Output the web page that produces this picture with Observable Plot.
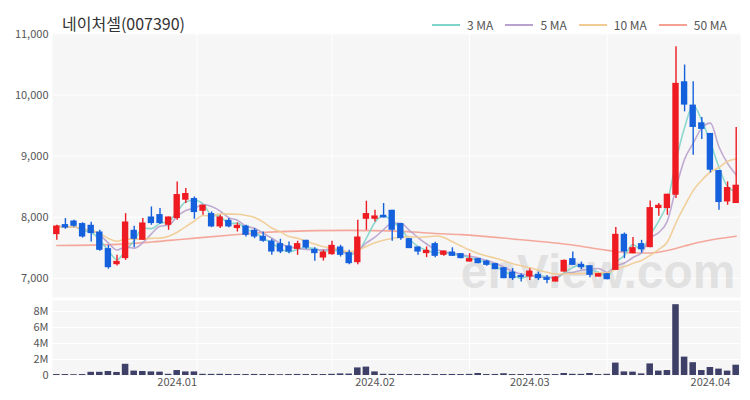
<!DOCTYPE html>
<html><head><meta charset="utf-8">
<script src="https://cdn.jsdelivr.net/npm/d3@7"></script>
<script src="https://cdn.jsdelivr.net/npm/@observablehq/plot@0.6"></script>
<style>
body{margin:0;background:#fff;font-family:"Noto Sans CJK KR","Noto Sans",sans-serif;}
#wrap{position:relative;width:750px;height:400px;overflow:hidden;background:#fff;}
#title{position:absolute;left:62px;top:14px;font-size:16px;line-height:18px;color:#333;}
#legend{position:absolute;left:432px;top:18px;display:flex;align-items:center;font-size:12px;line-height:14px;color:#555;}
#legend .it{display:flex;align-items:center;margin-right:12px;}
#legend .ln{width:28px;height:2px;margin-right:7px;}
#top,#vol{position:absolute;left:0;}
#top{top:0;} #vol{top:296px;}
</style></head>
<body><div id="wrap"><div id="top"></div><div id="vol"></div><div id="title"></div><div id="legend"></div></div>
<script>
const titleText = "네이처셀(007390)";
const watermark = "enView.com";
const opens = [7716,7880,7939,7897,7869,7759,7487,7224,7323,7787,
7623,8005,8044,7869,7979,8279,8307,8098,8061,7842,
7951,7815,7857,7787,7689,7612,7569,7530,7475,7623,
7475,7333,7388,7514,7421,7257,7967,7967,8033,8115,
7897,7650,7514,7405,7569,7377,7431,7405,7267,7323,
7284,7241,7175,7103,7049,7021,7066,7011,6940,7103,
7323,7230,7208,7021,7077,7131,7721,7405,7569,7503,
8143,8143,8361,10218,9836,9546,9372,8765,8251,8225];
const highs = [7870,7979,7950,7910,7918,7787,7541,7377,8060,7852,
7979,8169,8143,8005,8579,8470,8333,8197,8087,8033,
7979,7907,7869,7815,7759,7640,7640,7595,7607,7623,
7503,7459,7607,7541,7459,7951,8262,8115,8225,8115,
7897,7650,7514,7514,7590,7448,7500,7405,7405,7323,
7295,7241,7175,7159,7077,7159,7103,7049,7030,7300,
7431,7267,7208,7077,7077,7831,7743,7667,7623,8267,
8225,8377,10792,10492,10218,9634,9372,8765,8579,9470];
const lows = [7623,7803,7836,7660,7595,7443,7150,7202,7295,7503,
7623,7869,7880,7787,7951,8225,7967,8033,7830,7815,
7830,7759,7677,7650,7590,7377,7405,7405,7377,7475,
7279,7284,7377,7350,7225,7225,7787,7923,7989,7607,
7623,7487,7377,7339,7339,7361,7361,7323,7267,7241,
7197,7143,6995,6967,6940,6967,6967,6913,6940,7103,
7213,7143,7011,7021,6978,7131,7323,7405,7415,7503,
8016,8033,8307,9726,9016,9274,8726,8115,8197,8225];
const closes = [7857,7825,7852,7677,7733,7459,7175,7279,7923,7639,
7907,7897,7897,8005,8372,8389,8077,8197,7842,8005,
7842,7869,7705,7677,7607,7431,7431,7431,7569,7497,
7405,7431,7541,7377,7241,7677,8061,8022,7989,7787,
7650,7487,7431,7459,7361,7448,7361,7323,7323,7241,
7213,7143,6995,6995,7011,7120,6995,6967,7021,7295,
7213,7175,7049,7077,6978,7721,7431,7503,7470,8158,
8197,8377,10192,9836,9470,9438,8770,8241,8487,8525];
const volumesM = [0.12,0.12,0.1,0.12,0.4,0.4,0.5,0.38,1.4,0.55,
0.5,0.45,0.42,0.15,0.62,0.45,0.45,0.15,0.14,0.15,
0.13,0.12,0.12,0.13,0.12,0.12,0.1,0.12,0.13,0.12,
0.12,0.12,0.15,0.2,0.18,0.95,1.05,0.45,0.15,0.14,
0.13,0.12,0.12,0.13,0.12,0.12,0.13,0.12,0.14,0.25,
0.12,0.13,0.22,0.12,0.12,0.13,0.12,0.12,0.12,0.25,
0.15,0.14,0.25,0.12,0.15,1.55,0.45,0.42,0.2,1.45,
0.55,0.62,8.85,2.3,1.6,0.62,1.0,0.8,0.55,1.29];
const ma50Idx = [0,7,11,15,20,26,34,39,44,47,53,60,64,67,69,71,73,75,79];
const ma50Val = [7538,7557,7595,7645,7705,7765,7785,7778,7735,7716,7645,7545,7459,7415,7415,7455,7530,7600,7690];
const maNames = ["3 MA","5 MA","10 MA","50 MA"];
const maWindows = [3,5,10,50];
const maColors = ["#7fd5c9","#b9a2cd","#f1cb91","#f4a092"];
const yTicks = [7000,8000,9000,10000,11000];
const volTicks = [0,2e6,4e6,6e6,8e6];
const xTickIdx = [14,37,55,76];
const xTickLabels = ["2024.01","2024.02","2024.03","2024.04"];
const vGrid = [16.3,32,48,64];

const FONT = '"Noto Sans CJK KR","Noto Sans",sans-serif';
const upColor = "#ee1b22", downColor = "#1561dd";
const n = closes.length;
const candles = closes.map((c,i)=>({i, open:opens[i], high:highs[i], low:lows[i], close:c, up:c>=opens[i], vol:volumesM[i]*1e6}));
const ups = candles.filter(d=>d.up), downs = candles.filter(d=>!d.up);
const ma50 = ma50Idx.map((x,j)=>({x, y:ma50Val[j]}));

const maMarks = [0,1,2].map(j => Plot.lineY(candles, Plot.windowY({k: maWindows[j], anchor: "end", strict: false},
  {x: "i", y: "close", stroke: maColors[j], strokeWidth: 1.6, strokeOpacity: 0.9, curve: "monotone-x"})));

const topChart = Plot.plot({
  width: 750, height: 297, marginLeft: 52, marginRight: 10, marginTop: 33, marginBottom: 0,
  style: {fontFamily: FONT, fontSize: "11px", color: "#555", background: "transparent", overflow: "visible"},
  x: {domain: [-0.5, n-0.5], axis: null},
  y: {domain: [6687, 11008], ticks: yTicks, tickFormat: d3.format(","), tickSize: 0, tickPadding: 4, label: null},
  marks: [
    Plot.frame({fill: "#f6f6f6", stroke: "none"}),
    Plot.ruleY(yTicks, {stroke: "#fff", strokeWidth: 1}),
    Plot.ruleX(vGrid, {stroke: "#fff", strokeWidth: 1}),
    Plot.text([watermark], {text: d=>d, frameAnchor: "bottom-right", dx: -5, dy: -10, textAnchor: "end", lineAnchor: "bottom",
      fontSize: 48, fontWeight: "bold", fontFamily: "Liberation Sans", fill: "#d0d0d0", fillOpacity: 0.55}),
    Plot.line(ma50, {x: "x", y: "y", stroke: maColors[3], strokeWidth: 1.6, strokeOpacity: 0.9, curve: "monotone-x"}),
    ...maMarks,
    Plot.ruleX(ups, {x: "i", y1: "low", y2: "high", stroke: upColor, strokeWidth: 1.4}),
    Plot.ruleX(downs, {x: "i", y1: "low", y2: "high", stroke: downColor, strokeWidth: 1.4}),
    Plot.rect(ups, {x1: d=>d.i-0.37, x2: d=>d.i+0.37, y1: "open", y2: "close", fill: upColor}),
    Plot.rect(downs, {x1: d=>d.i-0.37, x2: d=>d.i+0.37, y1: "open", y2: "close", fill: downColor})
  ]
});
document.getElementById("top").appendChild(topChart);

const volChart = Plot.plot({
  width: 750, height: 104, marginLeft: 52, marginRight: 10, marginTop: 4, marginBottom: 25,
  style: {fontFamily: FONT, fontSize: "11px", color: "#555", background: "transparent", overflow: "visible"},
  x: {domain: [-0.5, n-0.5], ticks: xTickIdx, tickFormat: d => xTickLabels[xTickIdx.indexOf(d)], tickSize: 0, tickPadding: 3, label: null},
  y: {domain: [0, 9.375e6], ticks: volTicks, tickFormat: d => d === 0 ? "0" : (d/1e6) + "M", tickSize: 0, tickPadding: 4, label: null},
  marks: [
    Plot.frame({fill: "#f6f6f6", stroke: "none"}),
    Plot.ruleY(volTicks.slice(1), {stroke: "#fff", strokeWidth: 1}),
    Plot.ruleX(vGrid, {stroke: "#fff", strokeWidth: 1}),
    Plot.rect(candles, {x1: d=>d.i-0.38, x2: d=>d.i+0.38, y1: 0, y2: "vol", fill: "#3f4068"})
  ]
});
document.getElementById("vol").appendChild(volChart);

document.getElementById("title").textContent = titleText;
const lg = document.getElementById("legend");
maNames.forEach((name, j) => {
  const it = document.createElement("div"); it.className = "it";
  const ln = document.createElement("div"); ln.className = "ln"; ln.style.background = maColors[j];
  const tx = document.createElement("span"); tx.textContent = name;
  it.appendChild(ln); it.appendChild(tx); lg.appendChild(it);
});
</script>
</body></html>
